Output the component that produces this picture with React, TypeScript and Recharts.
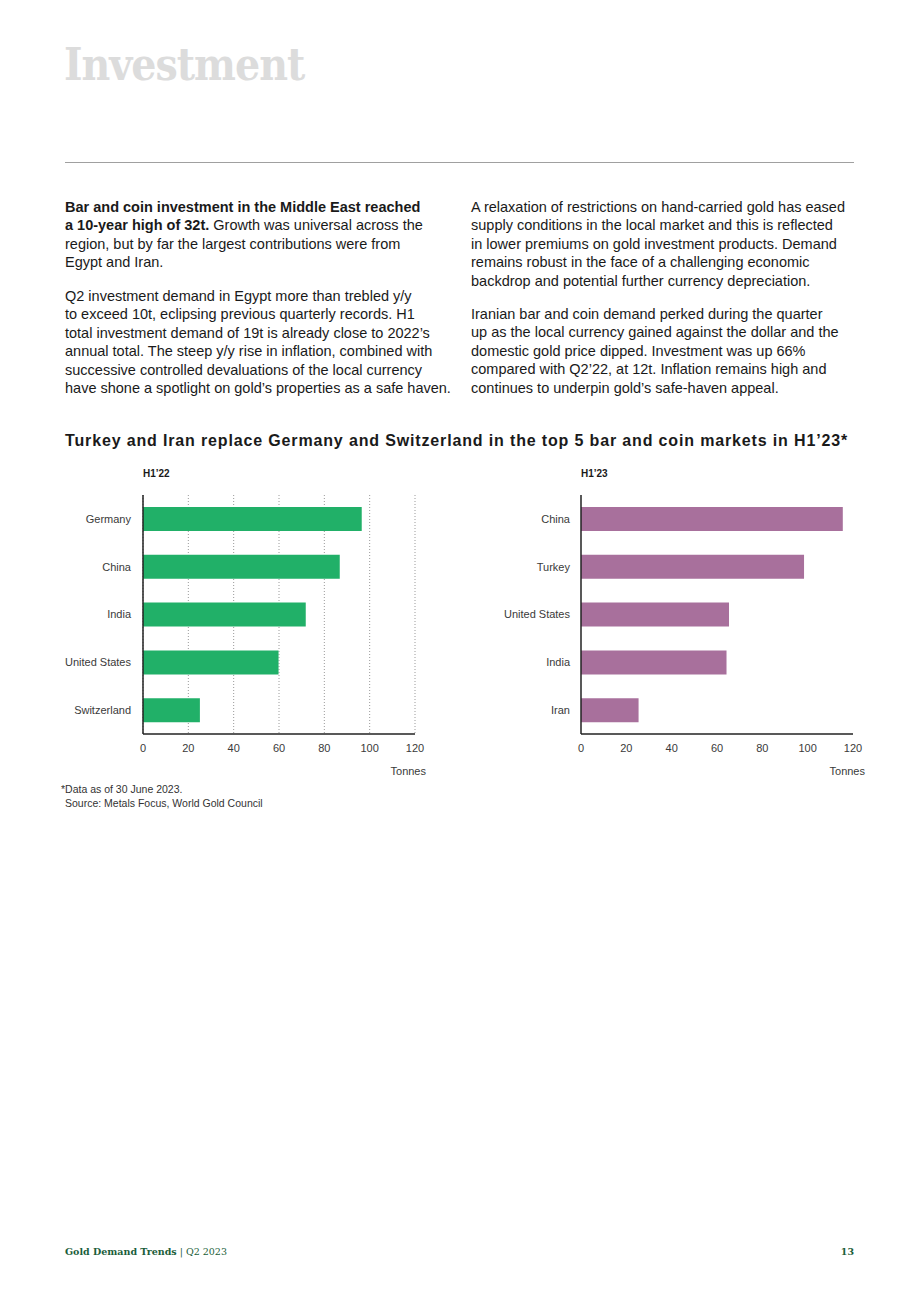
import React from 'react';
import { BarChart, Bar, XAxis, YAxis, CartesianGrid } from 'recharts';

const categories22 = ['Germany', 'China', 'India', 'United States', 'Switzerland'];
const values22 = [96.5, 86.8, 71.8, 59.8, 25.1];
const categories23 = ['China', 'Turkey', 'United States', 'India', 'Iran'];
const values23 = [115.5, 98.4, 65.3, 64.2, 25.4];
const xTicks = [0, 20, 40, 60, 80, 100, 120];

const data22 = categories22.map((c, i) => ({ name: c, value: values22[i] }));
const data23 = categories23.map((c, i) => ({ name: c, value: values23[i] }));

const SANS = '"Liberation Sans", Arial, sans-serif';
const SERIF = '"DejaVu Serif", serif';
const TEXT = '#1a1a1a';
const AXIS = '#222';

const leftP1 = [
  [<b key="b">Bar and coin investment in the Middle East reached</b>],
  [<b key="b">a 10-year high of 32t.</b>, ' Growth was universal across the'],
  ['region, but by far the largest contributions were from'],
  ['Egypt and Iran.'],
];
const leftP2 = [
  ['Q2 investment demand in Egypt more than trebled y/y'],
  ['to exceed 10t, eclipsing previous quarterly records. H1'],
  ['total investment demand of 19t is already close to 2022’s'],
  ['annual total. The steep y/y rise in inflation, combined with'],
  ['successive controlled devaluations of the local currency'],
  ['have shone a spotlight on gold’s properties as a safe haven.'],
];
const rightP1 = [
  ['A relaxation of restrictions on hand-carried gold has eased'],
  ['supply conditions in the local market and this is reflected'],
  ['in lower premiums on gold investment products. Demand'],
  ['remains robust in the face of a challenging economic'],
  ['backdrop and potential further currency depreciation.'],
];
const rightP2 = [
  ['Iranian bar and coin demand perked during the quarter'],
  ['up as the local currency gained against the dollar and the'],
  ['domestic gold price dipped. Investment was up 66%'],
  ['compared with Q2’22, at 12t. Inflation remains high and'],
  ['continues to underpin gold’s safe-haven appeal.'],
];

const LH = 18.5;

function Para({ lines, left, top }: { lines: any[]; left: number; top: number }) {
  return (
    <div
      style={{
        position: 'absolute',
        left,
        top,
        fontFamily: SANS,
        fontSize: 14.5,
        lineHeight: LH + 'px',
        color: TEXT,
        whiteSpace: 'nowrap',
      }}
    >
      {lines.map((l, i) => (
        <div key={i}>{l}</div>
      ))}
    </div>
  );
}

function Chart({
  data,
  color,
  yWidth,
  grid,
  tickMargin,
}: {
  data: { name: string; value: number }[];
  color: string;
  yWidth: number;
  grid: boolean;
  tickMargin: number;
}) {
  return (
    <BarChart
      width={440}
      height={300}
      data={data}
      layout="vertical"
      margin={{ top: 15, right: 440 - yWidth - 272, left: 0, bottom: 16 }}
      barSize={24}
    >
      {grid && (
        <CartesianGrid
          horizontal={false}
          vertical={true}
          stroke="#9a9a9a"
          strokeDasharray="1 2"
        />
      )}
      <XAxis
        type="number"
        domain={[0, 120]}
        ticks={xTicks}
        tickLine={false}
        axisLine={{ stroke: AXIS, strokeWidth: 1.5 }}
        tick={{ fill: '#3a3a3a', fontSize: 11, fontFamily: SANS }}
        tickMargin={4}
        height={30}
        interval={0}
      />
      <YAxis
        type="category"
        dataKey="name"
        width={yWidth}
        tickLine={false}
        axisLine={{ stroke: AXIS, strokeWidth: 1.5 }}
        tick={{ fill: '#3a3a3a', fontSize: 11, fontFamily: SANS }}
        tickMargin={tickMargin}
        interval={0}
      />
      <Bar dataKey="value" fill={color} isAnimationActive={false} />
    </BarChart>
  );
}

export default function App() {
  return (
    <div
      style={{
        position: 'absolute',
        left: 0,
        top: 0,
        width: 920,
        height: 1302,
        background: '#fff',
        overflow: 'hidden',
      }}
    >
      <div
        style={{
          position: 'absolute',
          left: 64,
          top: 35,
          fontFamily: SERIF,
          fontWeight: 'bold',
          fontStretch: 'condensed',
          fontSize: 44,
          lineHeight: '60px',
          color: '#dcdcdc',
          letterSpacing: -1,
        }}
      >
        Investment
      </div>
      <div
        style={{
          position: 'absolute',
          left: 65,
          top: 162,
          width: 789,
          height: 1,
          background: '#a0a0a0',
        }}
      />

      <Para lines={leftP1} left={65} top={207 - LH / 2} />
      <Para lines={leftP2} left={65} top={296 - LH / 2} />
      <Para lines={rightP1} left={471} top={207 - LH / 2} />
      <Para lines={rightP2} left={471} top={314 - LH / 2} />

      <div
        style={{
          position: 'absolute',
          left: 65,
          top: 431,
          fontFamily: SANS,
          fontWeight: 'bold',
          fontSize: 16,
          letterSpacing: 0.85,
          lineHeight: '20px',
          color: TEXT,
          whiteSpace: 'nowrap',
        }}
      >
        Turkey and Iran replace Germany and Switzerland in the top 5 bar and coin markets in H1’23*
      </div>

      <div
        style={{
          position: 'absolute',
          left: 143,
          top: 468,
          fontFamily: SANS,
          fontWeight: 'bold',
          fontSize: 10,
          color: TEXT,
        }}
      >
        H1’22
      </div>
      <div
        style={{
          position: 'absolute',
          left: 581,
          top: 468,
          fontFamily: SANS,
          fontWeight: 'bold',
          fontSize: 10,
          color: TEXT,
        }}
      >
        H1’23
      </div>

      <div style={{ position: 'absolute', left: 0, top: 480 }}>
        <Chart data={data22} color="#21b068" yWidth={143} grid={true} tickMargin={6} />
      </div>
      <div style={{ position: 'absolute', left: 440, top: 480 }}>
        <Chart data={data23} color="#a8709c" yWidth={141} grid={false} tickMargin={5} />
      </div>

      <div
        style={{
          position: 'absolute',
          left: 390,
          top: 765,
          width: 36,
          textAlign: 'right',
          fontFamily: SANS,
          fontSize: 11,
          color: '#3a3a3a',
        }}
      >
        Tonnes
      </div>
      <div
        style={{
          position: 'absolute',
          left: 820,
          top: 765,
          width: 45,
          textAlign: 'right',
          fontFamily: SANS,
          fontSize: 11,
          color: '#3a3a3a',
        }}
      >
        Tonnes
      </div>

      <div
        style={{
          position: 'absolute',
          left: 61,
          top: 782,
          fontFamily: SANS,
          fontSize: 10.5,
          lineHeight: '14px',
          color: '#333',
          whiteSpace: 'nowrap',
        }}
      >
        <div>*Data as of 30 June 2023.</div>
        <div style={{ paddingLeft: 4 }}>Source: Metals Focus, World Gold Council</div>
      </div>

      <div
        style={{
          position: 'absolute',
          left: 65,
          top: 1246,
          fontFamily: SERIF,
          fontSize: 9.5,
          color: '#1b5e3b',
          whiteSpace: 'nowrap',
        }}
      >
        <b>Gold Demand Trends</b>
        <span> | Q2 2023</span>
      </div>
      <div
        style={{
          position: 'absolute',
          left: 814,
          width: 40,
          top: 1246,
          textAlign: 'right',
          fontFamily: SERIF,
          fontWeight: 'bold',
          fontSize: 9.5,
          color: '#1b5e3b',
        }}
      >
        13
      </div>
    </div>
  );
}
